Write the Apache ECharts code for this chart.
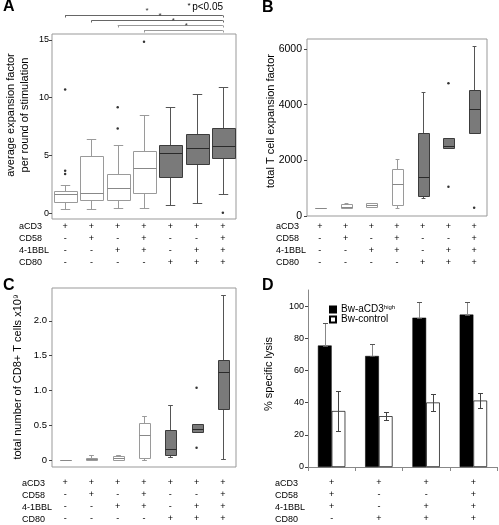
<!DOCTYPE html>
<html><head><meta charset="utf-8">
<script src="https://cdn.jsdelivr.net/npm/echarts@6/dist/echarts.min.js"></script>
<style>html,body{margin:0;padding:0;background:#fff}#c{width:499px;height:525px}</style>
</head><body><div id="c"></div>
<script>
// ---------- DATA ----------
const rowNames = ['aCD3', 'CD58', '4-1BBL', 'CD80'];
// panels A-C: 7 stimulation conditions
const sigACD3 = ['+', '+', '+', '+', '+', '+', '+'];
const sigCD58 = ['-', '+', '-', '+', '-', '-', '+'];
const sig41BBL = ['-', '-', '+', '+', '-', '+', '+'];
const sigCD80 = ['-', '-', '-', '-', '+', '+', '+'];
const shade = ['w', 'w', 'w', 'w', 'g', 'g', 'g'];

// Panel A: average expansion factor per round  [min, q1, median, q3, max]
const boxA = [
  [0.34, 1.0, 1.64, 1.95, 2.41],
  [0.34, 1.12, 1.72, 4.94, 6.4],
  [0.43, 1.15, 2.15, 3.36, 5.86],
  [0.43, 1.78, 3.93, 5.4, 8.53],
  [0.69, 3.16, 5.22, 5.86, 9.19],
  [0.89, 4.22, 5.6, 6.81, 10.34],
  [1.66, 4.74, 5.83, 7.38, 10.92]
];
const outA = [[0, 3.67], [0, 3.39], [0, 10.7], [2, 7.33], [2, 9.16], [3, 14.83], [6, 0.05]];
// significance brackets (from group index to group index)
const brFrom = [0, 1, 2, 3];
const brTo = [6, 6, 6, 6];
const brLevel = [17.1, 16.67, 16.24, 15.85];
const pNote = 'p<0.05';

// Panel B: total T cell expansion factor
const boxB = [
  [280, 280, 290, 300, 300],
  [290, 294, 330, 430, 480],
  [318, 318, 380, 457, 457],
  [294, 388, 1151, 1682, 2065],
  [633, 702, 1408, 2973, 4452],
  [2450, 2450, 2527, 2808, 2808],
  [2973, 2973, 3835, 4523, 6102]
];
const outB = [[5, 4770], [5, 1053], [6, 294]];

// Panel C: total number of CD8+ T cells x10^9
const boxC = [
  [0, 0, 0, 0.01, 0.01],
  [0, 0, 0.02, 0.04, 0.08],
  [0, 0, 0.03, 0.06, 0.07],
  [0, 0.04, 0.36, 0.54, 0.64],
  [0.05, 0.07, 0.17, 0.44, 0.8],
  [0.40, 0.40, 0.45, 0.52, 0.52],
  [0.014, 0.74, 1.26, 1.445, 2.37]
];
const outC = [[5, 0.18], [5, 1.04]];

// Panel D: % specific lysis
const dACD3 = ['+', '+', '+', '+'];
const dCD58 = ['+', '-', '-', '+'];
const d41BBL = ['+', '-', '+', '+'];
const dCD80 = ['-', '+', '+', '+'];
const lysisHigh = [75.5, 69, 92.8, 94.7];
const lysisHighErr = [14.2, 7.2, 9.7, 7.8];
const lysisCtrl = [34.8, 31.6, 40.1, 41.3];
const lysisCtrlErr = [12.3, 2.5, 5.0, 4.7];
const seriesHigh = 'Bw-aCD3high';
const seriesCtrl = 'Bw-control';

// ---------- STYLE / LAYOUT ----------
const FONT = '"Liberation Sans", Arial, sans-serif';
const boxStyles = {
  w: { fill: '#ffffff', border: '#9a9a9a', median: '#888888', whisker: '#9a9a9a' },
  g: { fill: '#7a7a7a', border: '#3c3c3c', median: '#2a2a2a', whisker: '#555555' }
};
const brColors = ['#666', '#666', '#999', '#999'];
const grids = [
  { left: 52, top: 34, width: 184, height: 185 },
  { left: 307, top: 39, width: 180, height: 177 },
  { left: 52, top: 288, width: 184, height: 180 },
  { left: 308, top: 290, width: 189, height: 178 }
];

function colLabels(rows, n) {
  const out = [];
  for (let i = 0; i < n; i++) out.push(rows.map(r => r[i]).join('\n'));
  return out;
}
const labels7 = colLabels([sigACD3, sigCD58, sig41BBL, sigCD80], 7);
const labels4 = colLabels([dACD3, dCD58, d41BBL, dCD80], 4);

function ln(x1, y1, x2, y2, color) {
  return { type: 'line', shape: { x1, y1, x2, y2 }, style: { stroke: color, lineWidth: 1 } };
}
const px = v => Math.round(v) + 0.5;

function boxRenderer(boxW, capW) {
  return function (params, api) {
    const i = api.value(0);
    const mn = api.value(1), q1 = api.value(2), md = api.value(3), q3 = api.value(4), mx = api.value(5);
    const band = api.size([1, 0])[0];
    const cx = px(api.coord([i, md])[0]);
    const bw = band * boxW, cw = band * capW;
    const y = v => px(api.coord([i, v])[1]);
    const st = boxStyles[shade[i]];
    const ch = [];
    if (mx > q3) {
      ch.push(ln(cx, y(q3), cx, y(mx), st.whisker));
      ch.push(ln(cx - cw / 2, y(mx), cx + cw / 2, y(mx), st.whisker));
    }
    if (mn < q1) {
      ch.push(ln(cx, y(q1), cx, y(mn), st.whisker));
      ch.push(ln(cx - cw / 2, y(mn), cx + cw / 2, y(mn), st.whisker));
    }
    const x0 = px(cx - bw / 2), x1 = px(cx + bw / 2);
    ch.push({ type: 'rect', shape: { x: x0, y: y(q3), width: x1 - x0, height: Math.max(0, y(q1) - y(q3)) },
      style: { fill: st.fill, stroke: st.border, lineWidth: 1 } });
    ch.push(ln(x0, y(md), x1, y(md), st.median));
    return { type: 'group', children: ch };
  };
}

function bracketRenderer(params, api) {
  const a = api.value(0), b = api.value(1), lv = api.value(2);
  const p1 = api.coord([a, lv]), p2 = api.coord([b, lv]);
  const yy = px(p1[1]);
  const col = brColors[params.dataIndex];
  const xm = (p1[0] + p2[0]) / 2 + 3;
  return { type: 'group', children: [
    ln(p1[0], yy, p2[0], yy, col),
    ln(px(p1[0]), yy, px(p1[0]), yy + 2, col),
    ln(px(p2[0]), yy, px(p2[0]), yy + 2, col),
    { type: 'text', style: { text: '*', x: xm, y: yy - 1, fontSize: 8, fontFamily: FONT, fill: '#333',
      align: 'center', verticalAlign: 'bottom' } }
  ] };
}

function errRenderer(offsetSign, stemColor, capColor) {
  return function (params, api) {
    const i = api.value(0), lo = api.value(1), hi = api.value(2);
    const band = api.size([1, 0])[0];
    const cx = px(api.coord([i, lo])[0] + offsetSign * band * 0.145);
    const yl = px(api.coord([i, lo])[1]), yh = px(api.coord([i, hi])[1]);
    const cw = 5;
    return { type: 'group', children: [
      ln(cx, yl, cx, yh, stemColor),
      ln(cx - cw / 2, yh, cx + cw / 2, yh, capColor),
      ln(cx - cw / 2, yl, cx + cw / 2, yl, capColor)
    ] };
  };
}

function yAxisCfg(gi, min, max, vals, fmt, fs, margin) {
  return {
    type: 'value', gridIndex: gi, min, max,
    axisLine: { show: gi === 3, lineStyle: { color: '#888' } },
    axisTick: { show: true, length: 3, inside: false, customValues: vals, lineStyle: { color: '#444' } },
    axisLabel: { customValues: vals, formatter: fmt, fontSize: fs, color: '#000', fontFamily: FONT, margin },
    splitLine: { show: false }
  };
}
function xAxisCfg(gi, data, margin, showLine) {
  return {
    type: 'category', gridIndex: gi, data,
    axisLine: { show: showLine, lineStyle: { color: '#888' } },
    axisTick: { show: showLine, length: 4, lineStyle: { color: '#888' } },
    axisLabel: { interval: 0, fontSize: 9, lineHeight: 12, color: '#000', fontFamily: FONT, margin }
  };
}

// ---------- GRAPHIC TEXTS ----------
const graphic = [];
function txt(x, y, text, opt) {
  graphic.push(Object.assign({ type: 'text', x, y, style: Object.assign({ text, fontFamily: FONT, fill: '#000', fontSize: 9,
    align: 'left', verticalAlign: 'middle' }, opt && opt.style || {}) }, opt && opt.el || {}));
}
[['A', 3, 7], ['B', 262, 8], ['C', 3, 286], ['D', 262, 286]].forEach(([t, x, y]) =>
  txt(x, y, t, { style: { fontSize: 16, fontWeight: 'bold' } }));
const rowLabelPos = [[19, 227], [276, 227], [22, 484], [275, 484]];
rowLabelPos.forEach(([x, y0]) => rowNames.forEach((r, k) => txt(x, y0 + 12 * k, r)));
// axis titles
txt(18, 115, 'average expansion factor\nper round of stimulation',
  { style: { fontSize: 11, align: 'center', lineHeight: 14 }, el: { rotation: Math.PI / 2 } });
txt(271, 121, 'total T cell expansion factor', { style: { fontSize: 11, align: 'center' }, el: { rotation: Math.PI / 2 } });
txt(18, 377, 'total number of CD8+ T cells x10\u2079', { style: { fontSize: 11, align: 'center' }, el: { rotation: Math.PI / 2 } });
txt(269, 374, '% specific lysis', { style: { fontSize: 11, align: 'center' }, el: { rotation: Math.PI / 2 } });
// p-value note
txt(187.5, 6, '*', { style: { fontSize: 8 } });
txt(223, 7.5, pNote, { style: { fontSize: 10, align: 'right' } });

// ---------- OPTION ----------
const option = {
  animation: false,
  backgroundColor: '#fff',
  textStyle: { fontFamily: FONT },
  grid: grids.map((g, i) => Object.assign({ show: i < 3, borderColor: '#999', borderWidth: 1, backgroundColor: 'transparent' }, g)),
  xAxis: [
    xAxisCfg(0, labels7, 2, false),
    xAxisCfg(1, labels7, 5, false),
    xAxisCfg(2, labels7, 10, false),
    xAxisCfg(3, labels4, 10, true)
  ],
  yAxis: [
    yAxisCfg(0, -0.5, 15.5, [0, 5, 10, 15], v => String(v), 9, 3),
    yAxisCfg(1, 0, 6360, [0, 2000, 4000, 6000], v => String(v), 10.5, 5),
    yAxisCfg(2, -0.095, 2.47, [0, 0.5, 1, 1.5, 2], v => v === 0 ? '0' : v.toFixed(1), 9.5, 5),
    yAxisCfg(3, 0, 110, [0, 20, 40, 60, 80, 100], v => String(v), 9, 4)
  ],
  legend: {
    data: [seriesHigh, seriesCtrl], orient: 'vertical', left: 324, top: 299,
    itemWidth: 6, itemHeight: 6, itemGap: 0, icon: 'rect',
    textStyle: { fontSize: 10, color: '#000', fontFamily: FONT,
      rich: { m: { fontSize: 10, fontFamily: FONT }, s: { fontSize: 6, fontFamily: FONT, verticalAlign: 'top', padding: [0, 0, 5, 0] } } },
    formatter: n => n === seriesHigh ? '{m|Bw-aCD3}{s|high}' : '{m|' + n + '}'
  },
  graphic,
  series: [
    { type: 'custom', xAxisIndex: 0, yAxisIndex: 0, renderItem: boxRenderer(0.87, 0.36),
      encode: { x: 0, y: [1, 2, 3, 4, 5] }, data: boxA.map((b, i) => [i, ...b]) },
    { type: 'scatter', xAxisIndex: 0, yAxisIndex: 0, symbolSize: 2.5, itemStyle: { color: '#000' }, data: outA },
    { type: 'custom', xAxisIndex: 0, yAxisIndex: 0, renderItem: bracketRenderer, clip: false,
      encode: { x: [0, 1], y: 2 }, data: brFrom.map((f, k) => [f, brTo[k], brLevel[k]]) },

    { type: 'custom', xAxisIndex: 1, yAxisIndex: 1, renderItem: boxRenderer(0.41, 0.15),
      encode: { x: 0, y: [1, 2, 3, 4, 5] }, data: boxB.map((b, i) => [i, ...b]) },
    { type: 'scatter', xAxisIndex: 1, yAxisIndex: 1, symbolSize: 2.5, itemStyle: { color: '#000' }, data: outB },

    { type: 'custom', xAxisIndex: 2, yAxisIndex: 2, renderItem: boxRenderer(0.42, 0.18),
      encode: { x: 0, y: [1, 2, 3, 4, 5] }, data: boxC.map((b, i) => [i, ...b]) },
    { type: 'scatter', xAxisIndex: 2, yAxisIndex: 2, symbolSize: 2.5, itemStyle: { color: '#000' }, data: outC },

    { name: seriesHigh, type: 'bar', xAxisIndex: 3, yAxisIndex: 3, barWidth: '29%', barGap: '0%',
      itemStyle: { color: '#000', borderColor: '#000', borderWidth: 0.5 }, data: lysisHigh, z: 2 },
    { name: seriesCtrl, type: 'bar', xAxisIndex: 3, yAxisIndex: 3, barWidth: '29%', barGap: '0%',
      itemStyle: { color: '#fff', borderColor: '#000', borderWidth: 0.7 }, data: lysisCtrl, z: 2 },
    { type: 'custom', xAxisIndex: 3, yAxisIndex: 3, renderItem: errRenderer(-1, '#888', '#555'), z: 3,
      encode: { x: 0, y: [1, 2] }, data: lysisHigh.map((v, i) => [i, v, v + lysisHighErr[i]]) },
    { type: 'custom', xAxisIndex: 3, yAxisIndex: 3, renderItem: errRenderer(1, '#444', '#444'), z: 3,
      encode: { x: 0, y: [1, 2] }, data: lysisCtrl.map((v, i) => [i, v - lysisCtrlErr[i], v + lysisCtrlErr[i]]) }
  ]
};
const chart = echarts.init(document.getElementById('c'));
chart.setOption(option);
</script>
</body></html>
